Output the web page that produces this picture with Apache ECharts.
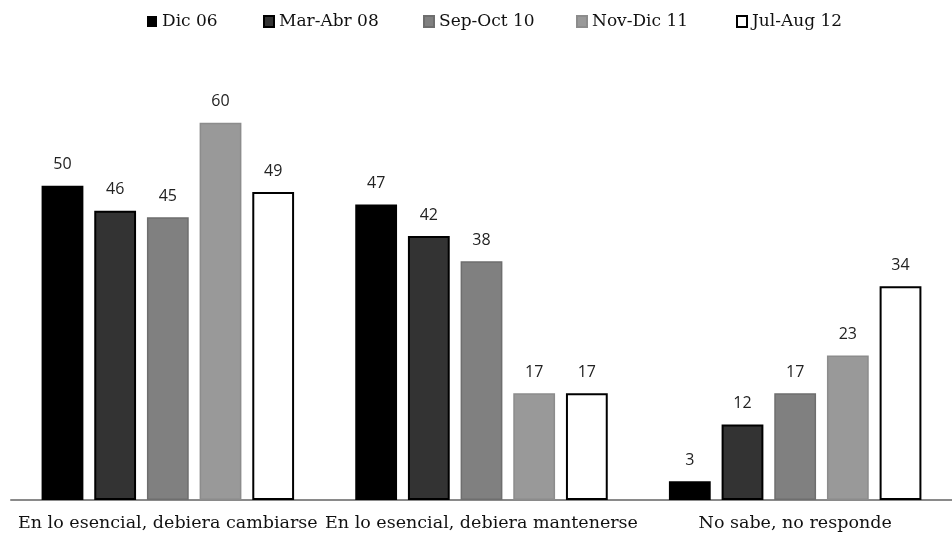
<!DOCTYPE html>
<html>
<head>
<meta charset="utf-8">
<script src="https://cdn.jsdelivr.net/npm/echarts@6/dist/echarts.min.js"></script>
<style>
html,body{margin:0;padding:0;background:#fff;}
#chart{width:952px;height:538px;}
</style>
</head>
<body>
<div id="chart"></div>
<script>
// Survey answers by period
const categories = ['En lo esencial, debiera cambiarse', 'En lo esencial, debiera mantenerse', 'No sabe, no responde'];
const periods = ['Dic 06', 'Mar-Abr 08', 'Sep-Oct 10', 'Nov-Dic 11', 'Jul-Aug 12'];
const dic06 = [50, 47, 3];
const marAbr08 = [46, 42, 12];
const sepOct10 = [45, 38, 17];
const novDic11 = [60, 17, 23];
const julAug12 = [49, 17, 34];

const values = [dic06, marAbr08, sepOct10, novDic11, julAug12];
const fills = ['#000000', '#333333', '#808080', '#999999', '#ffffff'];
const borders = ['#000000', '#000000', '#6e6e6e', '#8c8c8c', '#000000'];
const borderWidths = [0, 2, 1.5, 1.5, 2];
const legendLeft = [147, 263, 423, 576, 736];

const serif = '"DejaVu Serif", "Liberation Serif", serif';

const chart = echarts.init(document.getElementById('chart'));
chart.setOption({
  animation: false,
  backgroundColor: '#ffffff',
  legend: periods.map((p, i) => ({
    data: [{ name: p, icon: 'rect' }],
    top: 13,
    left: legendLeft[i],
    padding: 0,
    itemWidth: 10,
    itemHeight: 11,
    itemGap: 0,
    textStyle: { fontFamily: serif, fontSize: 17, color: '#111', padding: [0, 0, 0, 0] },
    selectedMode: false
  })),
  grid: { left: 11, right: -6, top: 60, bottom: 38, containLabel: false },
  xAxis: {
    type: 'category',
    data: categories,
    axisLine: { lineStyle: { color: '#8a8a8a', width: 2 } },
    axisTick: { show: false },
    axisLabel: { interval: 0, fontFamily: serif, fontSize: 17.5, color: '#111', margin: 14 }
  },
  yAxis: {
    type: 'value', min: 0, max: 70,
    show: false,
    splitLine: { show: false }
  },
  series: periods.map((p, i) => ({
    name: p,
    type: 'bar',
    data: values[i],
    barGap: '26%',
    barCategoryGap: '19.5%',
    itemStyle: { color: fills[i], borderColor: borders[i], borderWidth: borderWidths[i] },
    label: {
      show: true, position: 'top', distance: 13,
      fontFamily: '"Open Sans", "Liberation Sans", sans-serif', fontSize: 16, color: '#222'
    }
  }))
});
</script>
</body>
</html>
